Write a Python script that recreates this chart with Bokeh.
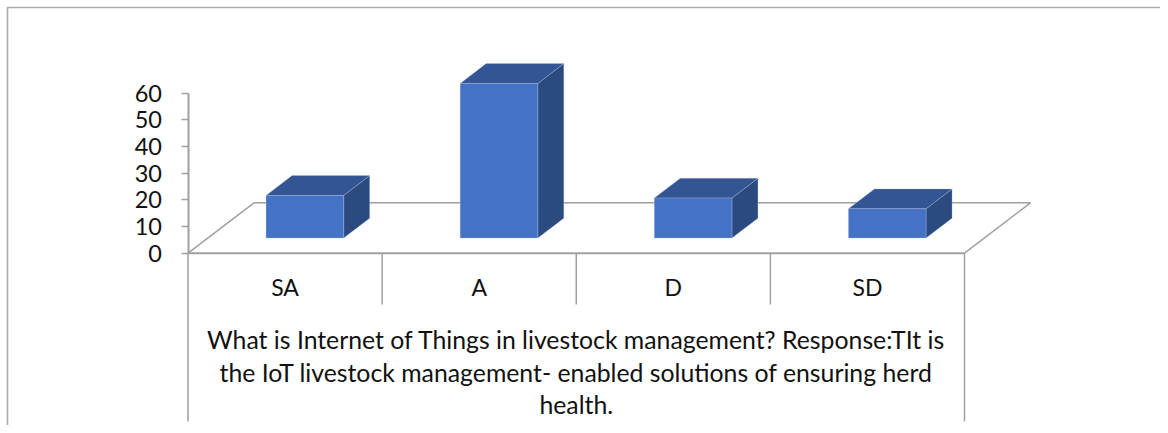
from bokeh.plotting import figure
from bokeh.models import Range1d, FixedTicker
from bokeh.core.properties import value
from bokeh.embed import file_html
from bokeh.resources import INLINE

categories = ["SA", "A", "D", "SD"]
responses = [16, 58, 15, 11]
y_ticks = [0, 10, 20, 30, 40, 50, 60]
title_lines = [
    "What is Internet of Things in livestock management? Response:TIt is",
    "the IoT livestock management- enabled solutions of ensuring herd",
    "health.",
]

W, H = 1160, 425
X0, Y0 = 187.5, 252.7      # pixel position of the origin in the figure
PX_CAT, PX_VAL = 194.125, 160 / 60
FLOOR_DX, FLOOR_DY = 66 / PX_CAT, 50.4 / PX_VAL
BAR_W, D_FRONT, D_BACK = 0.40, 0.30, 0.694
FONT = "Lato"

def cx(px):
    return (px - X0) / PX_CAT

def vy(px):
    return (Y0 - px) / PX_VAL

def proj(cat, val, depth):
    return cat + depth * FLOOR_DX, val + depth * FLOOR_DY

p = figure(width=W, height=H, output_backend="svg", toolbar_location=None,
           x_range=Range1d(cx(0), cx(W)), y_range=Range1d(vy(H), vy(0)),
           min_border=0, outline_line_color=None, background_fill_color="white")
p.grid.visible = False

# outer chart border
border_c = "#ababab"
p.line([cx(7), cx(7), cx(W)], [vy(H), vy(7), vy(7)], line_color=border_c, line_width=1.6)

# floor
floor_c = "#a0a0a0"
n = len(categories)
bx, by = zip(*[proj(0, 0, 0), proj(0, 0, 1), proj(n, 0, 1), proj(n, 0, 0)])
p.line(list(bx), list(by), line_color=floor_c, line_width=1.5)
p.line([0, n], [0, 0], line_color=floor_c, line_width=2)

# data-table lines below the plot
for i in range(n + 1):
    bottom = 421 if i in (0, n) else 304
    p.line([i, i], [0, vy(bottom)], line_color=floor_c, line_width=1.5)

# 3-D bars
front_c, top_c, side_c = "#4472C4", "#335593", "#2A4A80"
edge = "#b9c9e8"
for i, v in enumerate(responses):
    l = i + 0.5 - BAR_W / 2
    r = i + 0.5 + BAR_W / 2
    f = [proj(l, 0, D_FRONT), proj(r, 0, D_FRONT), proj(r, v, D_FRONT), proj(l, v, D_FRONT)]
    t = [proj(l, v, D_FRONT), proj(r, v, D_FRONT), proj(r, v, D_BACK), proj(l, v, D_BACK)]
    s = [proj(r, 0, D_FRONT), proj(r, 0, D_BACK), proj(r, v, D_BACK), proj(r, v, D_FRONT)]
    for pts, c in ((s, side_c), (t, top_c), (f, front_c)):
        xs, ys = zip(*pts)
        p.patch(list(xs), list(ys), fill_color=c, line_color=edge, line_width=0.5, line_alpha=0.6)

# value axis
ya = p.yaxis[0]
ya.fixed_location = 0
ya.ticker = FixedTicker(ticks=y_ticks)
ya.bounds = (0, 60)
ya.axis_line_color = "#a0a0a0"
ya.axis_line_width = 2
ya.major_tick_line_color = "#a0a0a0"
ya.major_tick_line_width = 1.5
ya.major_tick_in = 0
ya.major_tick_out = 7
ya.minor_tick_line_color = None
ya.major_label_standoff = 19
ya.major_label_text_font = FONT
ya.major_label_text_font_size = "23.5px"
ya.major_label_text_color = "#111111"

# category axis
xa = p.xaxis[0]
xa.fixed_location = 0
xa.ticker = FixedTicker(ticks=[i + 0.5 for i in range(n)])
xa.major_label_overrides = {i + 0.5: c for i, c in enumerate(categories)}
xa.axis_line_color = None
xa.major_tick_line_color = None
xa.minor_tick_line_color = None
xa.major_label_standoff = 14
xa.major_label_text_font = FONT
xa.major_label_text_font_size = "23px"
xa.major_label_text_color = "#111111"

# axis-title lines
for line, py in zip(title_lines, (339, 372, 404)):
    p.text([n / 2], [vy(py)], text=[line], text_font=value(FONT), text_font_size="24.8px",
           text_align="center", text_baseline="middle", text_color="#111111")

open("out.html", "w").write(file_html(p, INLINE))
